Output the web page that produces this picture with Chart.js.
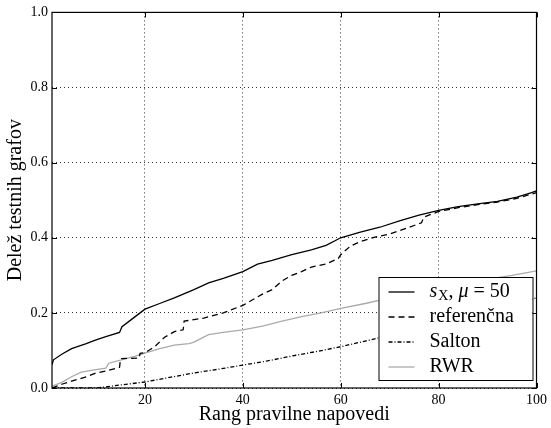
<!DOCTYPE html>
<html>
<head>
<meta charset="utf-8">
<script src="https://cdn.jsdelivr.net/npm/chart.js@4"></script>
<style>
  html, body { margin: 0; padding: 0; background: #fff; }
</style>
</head>
<body>
<canvas id="chart" width="551" height="428"></canvas>
<script>
// rank of the correct prediction (x) vs share of test graphs (y)
var sxX = [1, 1.3, 3, 5, 8, 10, 12, 14.8, 15.3, 18, 20, 23, 26, 30, 33, 36, 40, 43, 46, 50, 54, 57, 60, 64, 68, 72, 76, 80, 84, 88, 92, 96, 99, 100];
var sxY = [0.062, 0.075, 0.09, 0.105, 0.118, 0.128, 0.137, 0.148, 0.163, 0.19, 0.21, 0.225, 0.24, 0.262, 0.28, 0.292, 0.31, 0.33, 0.34, 0.355, 0.368, 0.38, 0.40, 0.415, 0.428, 0.445, 0.46, 0.473, 0.483, 0.49, 0.497, 0.508, 0.52, 0.525];

var refX = [1, 3, 5, 8, 10, 12, 14.8, 15, 18.8, 19, 20, 22, 24, 26, 27.8, 28, 32, 36, 40, 42, 44, 46, 48, 50, 52, 54, 57, 59.5, 60, 62, 64, 67, 70, 74, 76.5, 77, 80, 84, 88, 92, 96, 100];
var refY = [0.0, 0.01, 0.018, 0.03, 0.04, 0.045, 0.055, 0.078, 0.08, 0.092, 0.094, 0.11, 0.135, 0.15, 0.155, 0.178, 0.186, 0.2, 0.22, 0.235, 0.25, 0.262, 0.285, 0.3, 0.31, 0.322, 0.33, 0.345, 0.355, 0.378, 0.39, 0.402, 0.41, 0.428, 0.44, 0.455, 0.47, 0.48, 0.488, 0.495, 0.505, 0.52];

var saltonX = [1, 5, 10, 12, 15, 20, 25, 30, 35, 40, 45, 50, 55, 60, 65, 70, 75, 80, 85, 90, 95, 100];
var saltonY = [0, 0, 0, 0.003, 0.008, 0.016, 0.028, 0.04, 0.05, 0.061, 0.072, 0.085, 0.097, 0.11, 0.125, 0.14, 0.155, 0.17, 0.186, 0.203, 0.22, 0.24];

var rwrX = [1, 3, 5, 7, 9, 12, 12.6, 15, 18, 20, 23, 26, 29, 30, 33, 36, 40, 44, 48, 52, 56, 60, 65, 70, 75, 80, 85, 90, 95, 100];
var rwrY = [0.005, 0.015, 0.03, 0.042, 0.047, 0.053, 0.066, 0.074, 0.085, 0.093, 0.105, 0.114, 0.118, 0.122, 0.142, 0.148, 0.155, 0.165, 0.178, 0.19, 0.2, 0.212, 0.225, 0.24, 0.255, 0.268, 0.28, 0.29, 0.3, 0.312];

var xTicks = [20, 40, 60, 80, 100];
var yTicks = [0, 0.2, 0.4, 0.6, 0.8, 1.0];
var labels = ['sX, \u03bc = 50', 'referen\u010dna', 'Salton', 'RWR'];

var serif = "'Liberation Serif', 'DejaVu Serif', serif";

function pts(xs, ys) {
  return xs.map(function(x, i) { return {x: x, y: ys[i]}; });
}

// frame, inward ticks and the boxed legend (matplotlib look)
var decor = {
  id: 'decor',
  afterDraw: function(chart) {
    var a = chart.chartArea, ctx = chart.ctx;
    var sx = chart.scales.x, sy = chart.scales.y;
    ctx.save();
    ctx.strokeStyle = '#000';
    ctx.lineWidth = 1;
    ctx.setLineDash([]);
    ctx.beginPath();
    xTicks.forEach(function(v) {
      var p = Math.round(sx.getPixelForValue(v)) + 0.5;
      ctx.moveTo(p, a.bottom); ctx.lineTo(p, a.bottom - 5);
      ctx.moveTo(p, a.top); ctx.lineTo(p, a.top + 5);
    });
    yTicks.forEach(function(v) {
      var p = Math.round(sy.getPixelForValue(v)) + 0.5;
      ctx.moveTo(a.left, p); ctx.lineTo(a.left + 5, p);
      ctx.moveTo(a.right, p); ctx.lineTo(a.right - 5, p);
    });
    ctx.stroke();
    ctx.lineWidth = 1.2;
    ctx.strokeRect(a.left, a.top, a.right - a.left, a.bottom - a.top);

    // legend
    var bw = 154, bh = 103;
    var bx = a.right - 4 - bw, by = a.bottom - 8 - bh;
    ctx.fillStyle = '#fff';
    ctx.fillRect(bx, by, bw, bh);
    ctx.lineWidth = 1;
    ctx.strokeRect(bx + 0.5, by + 0.5, bw, bh);
    var fs = 20;
    chart.data.datasets.forEach(function(ds, i) {
      var y = by + 15 + i * 25;
      ctx.strokeStyle = ds.borderColor;
      ctx.lineWidth = ds.borderWidth;
      ctx.setLineDash(ds.borderDash || []);
      ctx.beginPath();
      ctx.moveTo(bx + 10, y); ctx.lineTo(bx + 36, y);
      ctx.stroke();
      ctx.setLineDash([]);
      ctx.fillStyle = '#000';
      ctx.textBaseline = 'middle';
      ctx.textAlign = 'left';
      var tx = bx + 51;
      if (i === 0) {
        ctx.font = 'italic ' + fs + 'px ' + serif;
        ctx.fillText('s', tx, y); tx += ctx.measureText('s').width + 1;
        ctx.font = '14px ' + serif;
        ctx.fillText('X', tx, y + 4); tx += ctx.measureText('X').width;
        ctx.font = fs + 'px ' + serif;
        ctx.fillText(', ', tx, y); tx += ctx.measureText(', ').width;
        ctx.font = 'italic ' + fs + 'px ' + serif;
        ctx.fillText('\u03bc', tx, y); tx += ctx.measureText('\u03bc').width;
        ctx.font = fs + 'px ' + serif;
        ctx.fillText(' = 50', tx, y);
      } else {
        ctx.font = fs + 'px ' + serif;
        ctx.fillText(labels[i], tx, y);
      }
    });
    ctx.restore();
  }
};

var gridOpts = { color: '#000', lineWidth: 0.8, drawTicks: false };

new Chart(document.getElementById('chart'), {
  type: 'line',
  data: {
    datasets: [{
      label: labels[0], data: pts(sxX, sxY),
      borderColor: '#000', borderWidth: 1.3
    }, {
      label: labels[1], data: pts(refX, refY),
      borderColor: '#000', borderWidth: 1.3, borderDash: [6, 4]
    }, {
      label: labels[2], data: pts(saltonX, saltonY),
      borderColor: '#000', borderWidth: 1.3, borderDash: [4, 2, 1, 2]
    }, {
      label: labels[3], data: pts(rwrX, rwrY),
      borderColor: '#aaaaaa', borderWidth: 1.3
    }]
  },
  options: {
    responsive: false,
    animation: false,
    devicePixelRatio: 1,
    layout: { padding: { top: 12, right: 11, left: 0, bottom: 0 } },
    elements: { point: { radius: 0 }, line: { tension: 0, fill: false } },
    plugins: { legend: { display: false }, tooltip: { enabled: false } },
    scales: {
      x: {
        type: 'linear', min: 1, max: 100,
        afterBuildTicks: function(s) { s.ticks = xTicks.map(function(v) { return {value: v}; }); },
        afterFit: function(s) { s.height = 40; },
        grid: gridOpts,
        border: { display: false, dash: [1, 3] },
        ticks: { color: '#000', padding: 4, font: { family: serif, size: 14 },
                 callback: function(v) { return String(v); } },
        title: { display: true, text: 'Rang pravilne napovedi', color: '#000',
                 font: { family: serif, size: 20 }, padding: { top: 0, bottom: 1 } }
      },
      y: {
        min: 0, max: 1,
        afterBuildTicks: function(s) { s.ticks = yTicks.map(function(v) { return {value: v}; }); },
        afterFit: function(s) { s.width = 52; },
        grid: gridOpts,
        border: { display: false, dash: [1, 3] },
        ticks: { color: '#000', padding: 4, font: { family: serif, size: 14 },
                 callback: function(v) { return v.toFixed(1); } },
        title: { display: true, text: 'Delež testnih grafov', color: '#000',
                 font: { family: serif, size: 20 }, padding: { top: 4, bottom: 0 } }
      }
    }
  },
  plugins: [decor]
});
</script>
</body>
</html>
